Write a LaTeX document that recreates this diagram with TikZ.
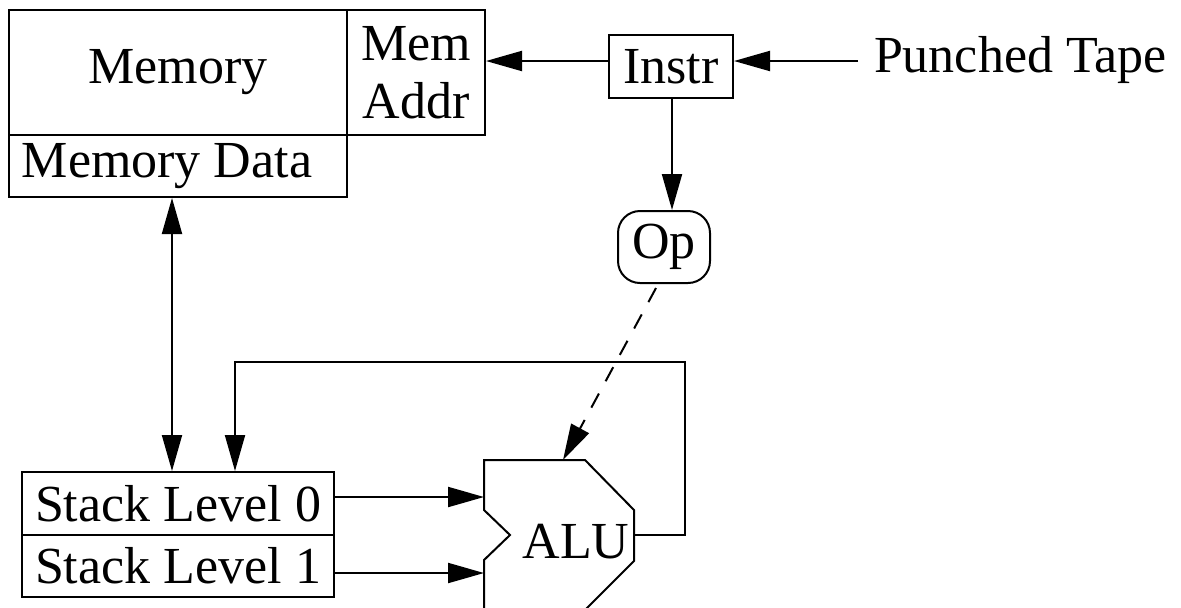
\documentclass[tikz,border=0pt]{standalone}
\usepackage{fontspec}
\setmainfont{Liberation Serif}
\usetikzlibrary{arrows.meta}
\begin{document}
\begin{tikzpicture}[x=0.5pt,y=-0.5pt,line width=1pt,
  every node/.style={font=\fontsize{26}{29}\selectfont},
  box/.style={draw,inner sep=0pt,line width=1pt},
  arr/.style={-{Triangle[length=18pt,width=10pt]}},
  darr/.style={{Triangle[length=18pt,width=10pt]}-{Triangle[length=18pt,width=10pt]}},
  dsh/.style={dash pattern=on 8pt off 7pt}]
\useasboundingbox (0,0) rectangle (1181,607);
% boxes
\node[box,minimum width=169pt,minimum height=62.5pt] (mem) at (178,72.5) {Memory};
\node[box,minimum width=69pt,minimum height=62.5pt,align=center] (addr) at (416,72.5) {Mem\\Addr};
\node[box,minimum width=169pt,minimum height=31pt] (data) at (178,166) {Memory Data\kern11pt\relax};
\node[box,minimum width=62pt,minimum height=31.5pt] (instr) at (671,66.5) {Instr};
\node[box,minimum width=46pt,minimum height=36pt,rounded corners=11pt] (op) at (664,247) {Op};
\node[anchor=west,inner sep=0pt] (tape) at (873,60) {Punched Tape};
\node[box,minimum width=156pt,minimum height=31.5pt] (s0) at (178,503.5) {Stack Level 0};
\node[box,minimum width=156pt,minimum height=31pt] (s1) at (178,566) {Stack Level 1};
% ALU shape
\draw (484,460) -- (585,460) -- (634,510) -- (634,561) -- (585,610) -- (484,610)
  -- (484,560) -- (510,535) -- (484,510) -- cycle;
\node (alu) at (576,542) {ALU};
\coordinate (aluin0) at (484,497);
\coordinate (aluin1) at (484,573);
\coordinate (aluout) at (634,535);
\coordinate (alutop) at (563,460);
\coordinate (tapeend) at (858,61);
% connectors
\draw[arr] (tapeend) -- (tapeend -| instr.east);
\draw[arr] (instr.west |- tapeend) -- (addr.east |- tapeend);
\draw[arr] (instr.south -| 672,0) -- (op.north -| 672,0);
\draw[arr,dsh] (op.south) ++(-8,4) -- (alutop);
\draw[darr] (data.south -| 172,0) -- (s0.north -| 172,0);
\draw[arr] (aluout) -- (685,535) -- (685,362) -- (235,362) -- (s0.north -| 235,0);
\draw[arr] (s0.east |- aluin0) -- (aluin0);
\draw[arr] (s1.east |- aluin1) -- (aluin1);
\end{tikzpicture}
\end{document}
